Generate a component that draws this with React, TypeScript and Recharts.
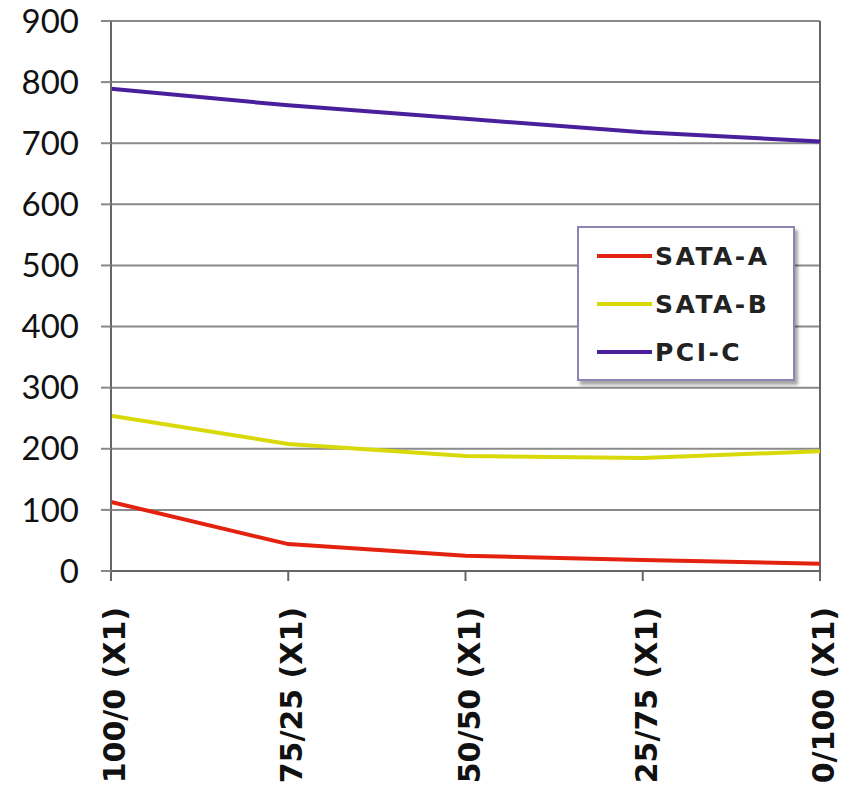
import React from "react";
import {
  LineChart,
  Line,
  XAxis,
  YAxis,
  CartesianGrid,
  Legend,
  ReferenceLine,
} from "recharts";

const MIXES = ["100/0 (X1)", "75/25 (X1)", "50/50 (X1)", "25/75 (X1)", "0/100 (X1)"];
const SATA_A = [113, 44, 25, 18, 12];
const SATA_B = [254, 208, 188, 185, 196];
const PCI_C = [789, 762, 740, 718, 703];
const Y_TICKS = [0, 100, 200, 300, 400, 500, 600, 700, 800, 900];

const SERIES = [
  { key: "SATA-A", values: SATA_A, color: "#e3230f" },
  { key: "SATA-B", values: SATA_B, color: "#d9d90a" },
  { key: "PCI-C", values: PCI_C, color: "#4a1f9c" },
];

const FONT = "Lato, 'Open Sans', sans-serif";
const BOLD_FONT = "'DejaVu Sans', sans-serif";

const data = MIXES.map((mix, i) => {
  const row: any = { mix };
  SERIES.forEach((s) => {
    row[s.key] = s.values[i];
  });
  return row;
});

const MixTick = ({ x, y, payload }: any) => (
  <text
    x={0}
    y={0}
    transform={`translate(${x + 14},${y + 24}) rotate(-90)`}
    textAnchor="end"
    fontFamily={BOLD_FONT}
    fontWeight={700}
    fontSize={30}
    fill="#111"
  >
    {payload.value}
  </text>
);

const LegendBox = () => (
  <div
    style={{
      position: "absolute",
      left: 577,
      top: 226,
      width: 214,
      height: 151,
      border: "2px solid #8c86b4",
      background: "#fff",
      boxShadow: "3px 4px 3px rgba(0,0,0,0.35)",
      fontFamily: BOLD_FONT,
    }}
  >
    {SERIES.map((s, i) => (
      <div
        key={s.key}
        style={{
          position: "absolute",
          left: 18,
          top: 12 + i * 48,
          display: "flex",
          alignItems: "center",
          height: 32,
        }}
      >
        <span
          style={{
            display: "inline-block",
            width: 55,
            height: 4,
            background: s.color,
            marginRight: 3,
          }}
        />
        <span style={{ fontSize: 25, fontWeight: 700, color: "#222", letterSpacing: 2.5 }}>
          {s.key}
        </span>
      </div>
    ))}
  </div>
);

export default function App() {
  return (
    <div style={{ position: "absolute", left: 0, top: 0, width: 852, height: 790, background: "#fff" }}>
      <LineChart
        width={852}
        height={790}
        data={data}
        margin={{ top: 21, right: 32, left: 0, bottom: 0 }}
      >
        <CartesianGrid vertical={false} stroke="#8a8a8a" strokeWidth={2} />
        <XAxis
          dataKey="mix"
          height={219}
          interval={0}
          tick={<MixTick />}
          tickSize={10}
          stroke="#666"
          axisLine={{ stroke: "#666", strokeWidth: 2 }}
          tickLine={{ stroke: "#666", strokeWidth: 2 }}
        />
        <YAxis
          width={111}
          domain={[0, 900]}
          ticks={Y_TICKS}
          interval={0}
          tickSize={10}
          tickMargin={22}
          axisLine={{ stroke: "#666", strokeWidth: 2 }}
          tickLine={{ stroke: "#888", strokeWidth: 2 }}
          tick={{ fontFamily: FONT, fontSize: 33, fill: "#111" }}
        />
        <ReferenceLine x={MIXES[MIXES.length - 1]} stroke="#666" strokeWidth={2} />
        {SERIES.map((s) => (
          <Line
            key={s.key}
            dataKey={s.key}
            type="linear"
            stroke={s.color}
            strokeWidth={4}
            dot={false}
            isAnimationActive={false}
          />
        ))}
        <Legend content={() => null} />
      </LineChart>
      <LegendBox />
    </div>
  );
}
